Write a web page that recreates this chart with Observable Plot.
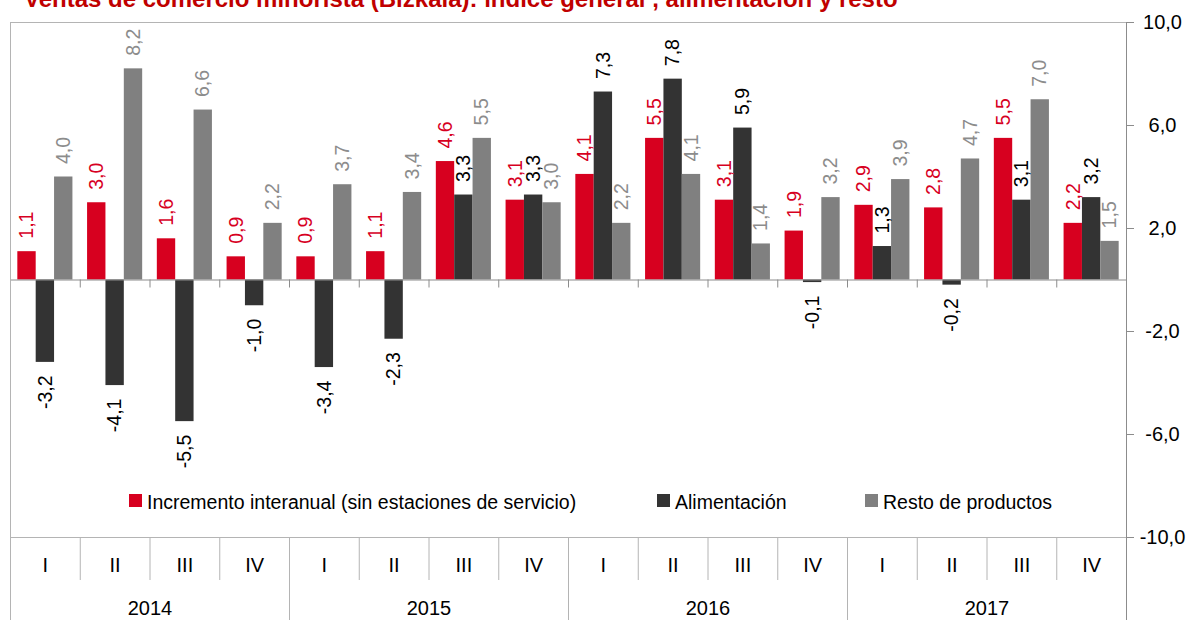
<!DOCTYPE html>
<html>
<head>
<meta charset="utf-8">
<script src="https://cdn.jsdelivr.net/npm/d3@7"></script>
<script src="https://cdn.jsdelivr.net/npm/@observablehq/plot@0.6"></script>
<style>
  html, body { margin: 0; padding: 0; background: #fff; overflow: hidden; }
  #wrap { position: relative; width: 1193px; height: 620px; overflow: hidden; font-family: "Liberation Sans", Arial, sans-serif; }
  #title { position: absolute; left: 24px; top: -13px; font-weight: bold; font-size: 24px; line-height: 24px; color: #c00000; white-space: nowrap; z-index: 2; }
  #legend { position: absolute; left: 0; top: 0; width: 1193px; height: 620px; pointer-events: none; z-index: 2; }
  .sw { position: absolute; width: 13px; height: 13px; top: 494px; }
  .lt { position: absolute; top: 492px; font-size: 19.5px; line-height: 20px; color: #000; white-space: nowrap; }
</style>
</head>
<body>
<div id="wrap">
  <div id="title">Ventas de comercio minorista (Bizkaia): índice general , alimentación y resto</div>
  <div id="chart"></div>
  <div id="legend"></div>
</div>
<script>
// ---- data ----
const years = ["2014", "2015", "2016", "2017"];
const quarters = ["I", "II", "III", "IV"];
const seriesNames = ["Incremento interanual (sin estaciones de servicio)", "Alimentación", "Resto de productos"];
const incremento   = [1.1, 3.0, 1.6, 0.9, 0.9, 1.1, 4.6, 3.1, 4.1, 5.5, 3.1, 1.9, 2.9, 2.8, 5.5, 2.2];
const alimentacion = [-3.2, -4.1, -5.5, -1.0, -3.4, -2.3, 3.3, 3.3, 7.3, 7.8, 5.9, -0.1, 1.3, -0.2, 3.1, 3.2];
const resto        = [4.0, 8.2, 6.6, 2.2, 3.7, 3.4, 5.5, 3.0, 2.2, 4.1, 1.4, 3.2, 3.9, 4.7, 7.0, 1.5];
const yTicks = [-10, -6, -2, 2, 6, 10];

// ---- styles ----
const barColors = ["#d7001f", "#333333", "#808080"];
const labelColors = ["#d7001f", "#000000", "#8c8c8c"];
const frameColor = "#b4b4b4";
const zeroColor = "#8c8c8c";

const fmt = v => v.toFixed(1).replace(".", ",");
const nQ = quarters.length;
const nG = years.length * nQ;
const groupPad = 0.105;
const bw = (1 - 2 * groupPad) / seriesNames.length;
const values = [incremento, alimentacion, resto];

const rows = [];
for (let g = 0; g < nG; g++) {
  for (let s = 0; s < seriesNames.length; s++) {
    rows.push({g, s, series: seriesNames[s], value: values[s][g]});
  }
}
const groups = d3.range(nG).map(g => ({g, quarter: quarters[g % nQ], year: years[Math.floor(g / nQ)]}));
const xL = d => d.g + groupPad + d.s * bw;
const xC = d => xL(d) + bw / 2;

const bounds = d3.range(1, nG);
const quarterBounds = bounds.filter(b => b % nQ !== 0);
const yearBounds = bounds.filter(b => b % nQ === 0);

const marks = [
  Plot.rect(rows, {x1: xL, x2: d => xL(d) + bw, y1: () => 0, y2: "value", fill: "series"}),
  Plot.ruleY([0], {stroke: zeroColor}),
  Plot.ruleX(bounds, {x: d => d, y1: () => 0, y2: () => 0, insetBottom: -8, stroke: zeroColor}),
  Plot.ruleY([10], {stroke: frameColor}),
  Plot.ruleY([-10], {stroke: frameColor}),
  Plot.ruleX([0], {stroke: frameColor, insetBottom: -83}),
  Plot.ruleX([nG], {stroke: zeroColor, insetBottom: -83}),
  Plot.ruleX(quarterBounds, {x: d => d, y1: () => -10, y2: () => -10, insetBottom: -43, stroke: frameColor}),
  Plot.ruleX(yearBounds, {x: d => d, y1: () => -10, y2: () => -10, insetBottom: -83, stroke: frameColor}),
  Plot.text(groups, {x: d => d.g + 0.5, y: () => -10, dy: 28, text: "quarter", fontSize: 20, fill: "#000"}),
  Plot.text(years, {x: (d, i) => i * nQ + nQ / 2, y: () => -10, dy: 71, text: d => d, fontSize: 20, fill: "#000"})
];

seriesNames.forEach((name, s) => {
  const pos = rows.filter(d => d.s === s && d.value >= 0);
  const neg = rows.filter(d => d.s === s && d.value < 0);
  marks.push(Plot.text(pos, {x: xC, y: "value", text: d => fmt(d.value), rotate: -90, textAnchor: "start", dy: -13, fill: labelColors[s], fontSize: 19.5}));
  marks.push(Plot.text(neg, {x: xC, y: "value", text: d => fmt(d.value), rotate: -90, textAnchor: "end", dy: 13, fill: labelColors[s], fontSize: 19.5}));
});

const hasAxisMark = typeof Plot.axisY === "function";
if (hasAxisMark) {
  marks.push(Plot.axisY(yTicks, {anchor: "right", tickSize: 7, tickPadding: 29, textAnchor: "middle", tickFormat: fmt, stroke: zeroColor, color: "#000", fontSize: 20, label: null}));
}

const chart = Plot.plot({
  width: 1193,
  height: 620,
  marginLeft: 10,
  marginRight: 67,
  marginTop: 22,
  marginBottom: 83,
  style: {fontFamily: '"Liberation Sans", Arial, sans-serif', fontSize: "20px", background: "#fff", color: "#000", overflow: "visible"},
  x: {domain: [0, nG], axis: null},
  y: hasAxisMark
    ? {domain: [-10, 10], label: null}
    : {domain: [-10, 10], axis: "right", ticks: yTicks, tickFormat: fmt, tickSize: 7, tickPadding: 7, label: null},
  color: {domain: seriesNames, range: barColors},
  marks
});
document.getElementById("chart").appendChild(chart);

// ---- legend (inside plot area) ----
const legendSw = [129, 657, 865];
const legend = document.getElementById("legend");
seriesNames.forEach((name, s) => {
  const sw = document.createElement("div");
  sw.className = "sw";
  sw.style.left = legendSw[s] + "px";
  sw.style.background = barColors[s];
  legend.appendChild(sw);
  const t = document.createElement("div");
  t.className = "lt";
  t.style.left = (legendSw[s] + 18) + "px";
  t.textContent = name;
  legend.appendChild(t);
});
</script>
</body>
</html>
